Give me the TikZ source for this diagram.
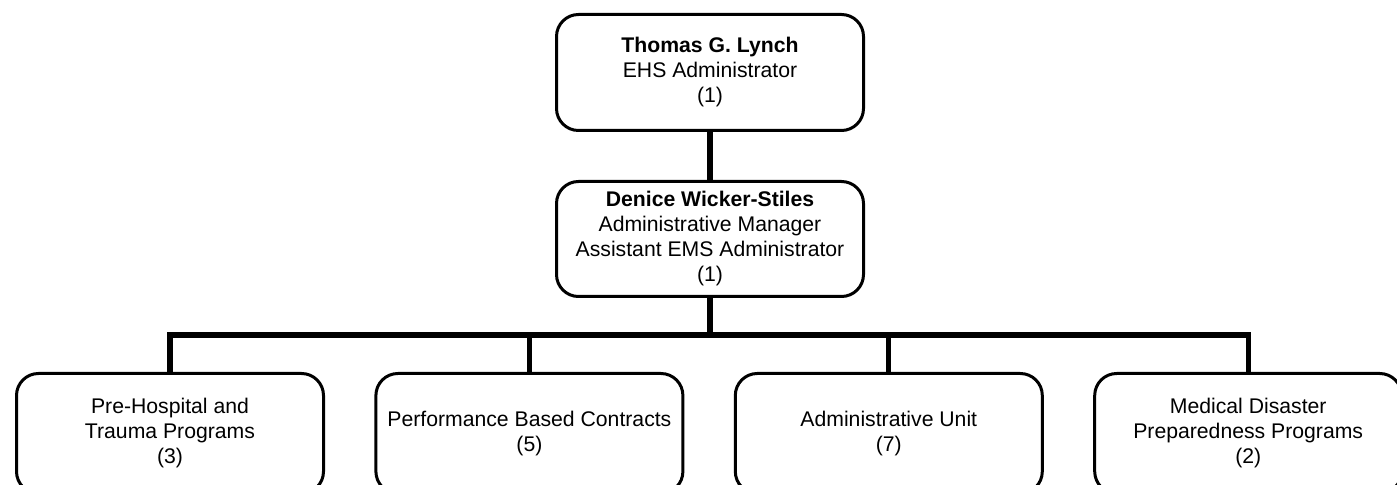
\documentclass[tikz,border=0pt]{standalone}
\usepackage{fontspec}
\setmainfont{Liberation Sans}
\usetikzlibrary{positioning}
\tikzset{
  font=\fontsize{10.6}{12.5}\selectfont,
  unit/.style={
    draw=black, fill=white, line width=1.5pt,
    rounded corners=11pt, align=center, inner sep=0pt,
    minimum width=153.5pt, minimum height=#1
  },
  unit/.default=58pt,
  link/.style={line width=2.6pt, draw=black}
}
\begin{document}
\begin{tikzpicture}[x=0.5pt,y=-0.5pt]
  \useasboundingbox (0,0) rectangle (1397,485);
  \node[unit] (head) at (710,72.5)
    {\textbf{Thomas G. Lynch}\\EHS Administrator\\(1)};
  \node[unit=57.5pt] (mgr) at (710,239)
    {\textbf{Denice Wicker-Stiles}\\Administrative Manager\\Assistant EMS Administrator\\(1)};
  \coordinate (bus) at (710,335);
  \node[unit=60pt] (prehosp) at (170,433.5) {Pre-Hospital and\\Trauma Programs\\(3)};
  \node[unit=60pt] (contracts) at (529.4,433.5) {Performance Based Contracts\\(5)};
  \node[unit=60pt] (admin) at (888.8,433.5) {Administrative Unit\\(7)};
  \node[unit=60pt] (disaster) at (1248.2,433.5) {Medical Disaster\\Preparedness Programs\\(2)};
  \draw[link] (head) -- (mgr);
  \foreach \sub in {prehosp,contracts,admin,disaster}
    \draw[link] (mgr.south) |- (bus) -| (\sub.north);
\end{tikzpicture}
\end{document}
